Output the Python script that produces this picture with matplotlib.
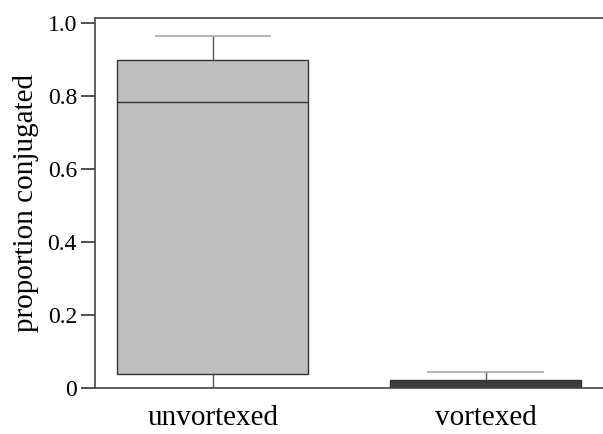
import matplotlib
matplotlib.use("Agg")
import matplotlib.pyplot as plt

# data
groups = ["unvortexed", "vortexed"]
q1 = [0.038, 0.0]
med = [0.784, 0.0]
q3 = [0.900, 0.023]
whis_lo = [0.0, 0.0]
whis_hi = [0.966, 0.044]
fills = ["#bfbfbf", "#3c3c3c"]

plt.rcParams["font.family"] = ["Liberation Serif", "DejaVu Serif"]

fig = plt.figure(figsize=(6.03, 4.34), dpi=100)
ax = fig.add_axes([0.1575, 0.106, 0.8425, 0.852])

stats = []
for i, g in enumerate(groups):
    stats.append({"label": g, "q1": q1[i], "med": med[i], "q3": q3[i],
                  "whislo": whis_lo[i], "whishi": whis_hi[i], "fliers": []})

pos = [1, 2]
bp = ax.bxp(stats, positions=pos, widths=0.7, capwidths=0.42,
            patch_artist=True, showfliers=False)

for box, c in zip(bp["boxes"], fills):
    box.set_facecolor(c)
    box.set_edgecolor("#333333")
    box.set_linewidth(1.0)
for m in bp["medians"]:
    m.set_color("#333333")
    m.set_linewidth(1.0)
for w in bp["whiskers"]:
    w.set_color("#555555")
    w.set_linewidth(1.0)
for k, cap in enumerate(bp["caps"]):
    cap.set_color("#a8a8a8")
    cap.set_linewidth(1.2)
    if k % 2 == 0:
        cap.set_visible(False)

ax.set_xlim(0.568, 2.43)
ax.set_ylim(0, 1.014)
ax.set_yticks([0, 0.2, 0.4, 0.6, 0.8, 1.0])
ax.set_yticklabels(["0", "0.2", "0.4", "0.6", "0.8", "1.0"])
ax.set_xticks(pos)
ax.set_xticklabels(groups)
ax.tick_params(axis="y", direction="out", length=10, width=1.2,
               color="#333333", labelsize=17, pad=3)
ax.tick_params(axis="x", length=0, labelsize=21, pad=12)
ax.set_ylabel("proportion conjugated", fontsize=21, labelpad=6)

for s in ["left", "bottom", "top"]:
    ax.spines[s].set_color("#444444")
    ax.spines[s].set_linewidth(1.2)
    ax.spines[s].set_zorder(5)
ax.spines["right"].set_visible(False)

fig.savefig("out.png", dpi=100)
